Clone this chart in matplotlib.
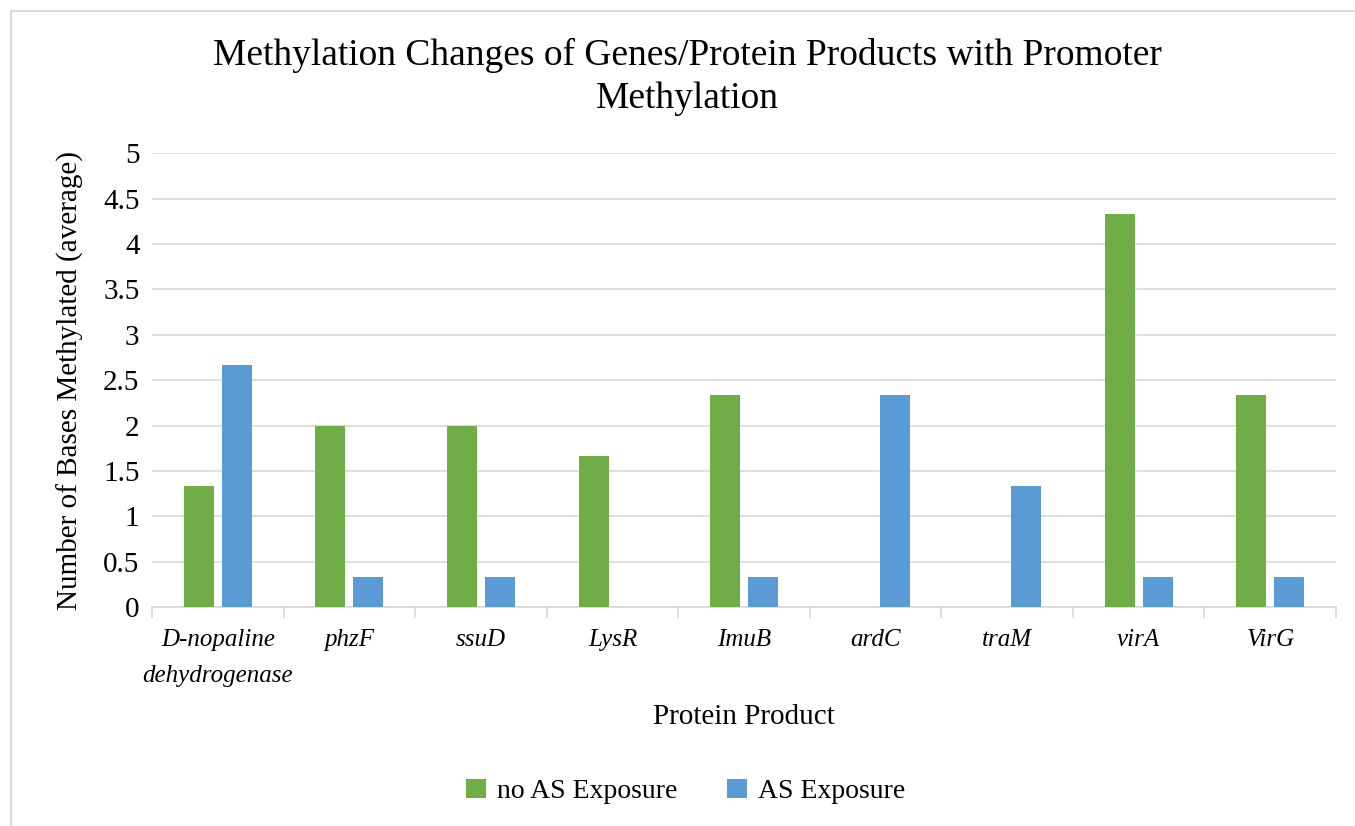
import matplotlib.pyplot as plt
import numpy as np
from matplotlib.patches import Rectangle

# chart data
proteins = ["D-nopaline\ndehydrogenase", "phzF", "ssuD", "LysR", "ImuB",
            "ardC", "traM", "virA", "VirG"]
no_as = [1.333, 2.0, 2.0, 1.667, 2.333, 0, 0, 4.333, 2.333]
as_exp = [2.667, 0.333, 0.333, 0, 0.333, 2.333, 1.333, 0.333, 0.333]

plt.rcParams['font.family'] = ['Liberation Serif', 'DejaVu Serif']

fig = plt.figure(figsize=(13.55, 8.26), dpi=100)
ax = fig.add_axes([0.1122, 0.265, 0.8738, 0.5496])

# outer chart border
fig.patches.append(Rectangle((11 / 1355, -0.05), 1.1, 1 - 11 / 826 + 0.05,
                             transform=fig.transFigure, fill=False,
                             edgecolor='#D9D9D9', linewidth=1.5))

x = np.arange(len(proteins))
w = 0.228
ax.bar(x - 0.144, no_as, w, color='#70AD47', label='no AS Exposure', zorder=3)
ax.bar(x + 0.144, as_exp, w, color='#5B9BD5', label='AS Exposure', zorder=3)

ax.set_xlim(-0.5, len(proteins) - 0.5)
ax.set_ylim(0, 5)
ax.set_yticks(np.arange(0, 5.01, 0.5))
ax.set_yticklabels(['0', '0.5', '1', '1.5', '2', '2.5', '3', '3.5', '4', '4.5', '5'])
ax.yaxis.grid(True, color='#D9D9D9', linewidth=1.2, zorder=0)
ax.tick_params(axis='y', length=0, labelsize=21, pad=9)

ax.set_xticks(x)
ax.set_xticklabels(proteins, fontsize=18, style='italic', linespacing=1.8)
ax.tick_params(axis='x', length=0, pad=16)
ax.set_xticks(np.arange(-0.5, len(proteins), 1), minor=True)
ax.tick_params(axis='x', which='minor', length=8, color='#D9D9D9', width=1.2)

for s in ['top', 'right', 'left']:
    ax.spines[s].set_visible(False)
ax.spines['bottom'].set_color('#D9D9D9')
ax.spines['bottom'].set_linewidth(1.2)

ax.set_xlabel("Protein Product", fontsize=21, labelpad=12)
ax.set_ylabel("Number of Bases Methylated (average)", fontsize=21, labelpad=14)
fig.text(0.507, 0.907, "Methylation Changes of Genes/Protein Products with Promoter\nMethylation",
         ha='center', va='center', fontsize=27, linespacing=1.3)

fig.legend(loc='center', bbox_to_anchor=(0.506, 0.042), ncol=2, frameon=False,
           fontsize=20, handlelength=0.7, handleheight=0.7, columnspacing=1.8,
           handletextpad=0.4)

plt.savefig("out.png", dpi=100)
